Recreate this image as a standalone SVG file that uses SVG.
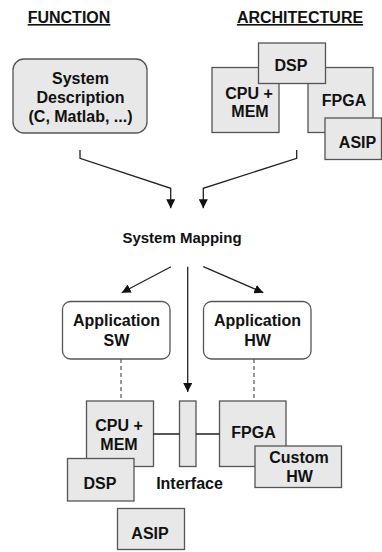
<svg xmlns="http://www.w3.org/2000/svg" width="382" height="552" viewBox="0 0 382 552">
<style>
text{font-family:"Liberation Sans",Arial,sans-serif;font-weight:bold;font-size:16px;fill:#111;text-anchor:middle}
.box{fill:#e8e8e8;stroke:#555;stroke-width:1.3}
.wbox{fill:#fff;stroke:#555;stroke-width:1.3}
.ln{fill:none;stroke:#222;stroke-width:1.3}
.dash{fill:none;stroke:#555;stroke-width:1.2;stroke-dasharray:4,3}
</style>
<defs>
<marker id="ah" viewBox="0 0 10 10" refX="10" refY="5" markerWidth="9" markerHeight="9" markerUnits="userSpaceOnUse" orient="auto">
<path d="M0,0 L10,5 L0,10 z" fill="#111"/>
</marker>
</defs>
<g id="titles">
<text x="69" y="23" text-decoration="underline">FUNCTION</text>
<text x="300" y="23" text-decoration="underline">ARCHITECTURE</text>
</g>
<g id="sysdesc">
<rect class="box" x="13" y="59" width="134" height="74" rx="11"/>
<text x="80.5" y="84">System</text>
<text x="80.5" y="103">Description</text>
<text x="80.5" y="122">(C, Matlab, ...)</text>
</g>
<g id="arch">
<g id="arch-cpu"><rect class="box" x="212" y="67.5" width="67" height="65"/><text x="249" y="98.5">CPU +</text><text x="250" y="117">MEM</text></g>
<g id="arch-fpga"><rect class="box" x="308" y="67.5" width="65" height="65"/><text x="344" y="106">FPGA</text></g>
<g id="arch-dsp"><rect class="box" x="258.5" y="43" width="67" height="40.5"/><text x="291" y="71">DSP</text></g>
<g id="arch-asip"><rect class="box" x="325" y="118" width="56.5" height="41.5"/><text x="357.5" y="148">ASIP</text></g>
</g>
<g id="mapping"><text x="182" y="243" style="font-size:15px">System Mapping</text></g>
<g id="appsw"><rect class="wbox" x="62.5" y="301.5" width="107.5" height="57.5" rx="8"/><text x="116.5" y="326">Application</text><text x="116.5" y="346">SW</text></g>
<g id="apphw"><rect class="wbox" x="203.5" y="301.5" width="107.5" height="57.5" rx="8"/><text x="257.5" y="326">Application</text><text x="257.5" y="346">HW</text></g>
<g id="cpu"><rect class="box" x="86.5" y="401" width="67" height="65.5"/><text x="119" y="431">CPU +</text><text x="119" y="450">MEM</text></g>
<g id="dsp"><rect class="box" x="67.5" y="458.5" width="66.5" height="42.5"/><text x="100" y="489">DSP</text></g>
<g id="iface"><rect class="box" x="179.5" y="401" width="16.5" height="65.5"/><text x="189.5" y="489">Interface</text></g>
<g id="fpga"><rect class="box" x="219.5" y="401" width="66.5" height="65.5"/><text x="253.5" y="438">FPGA</text></g>
<g id="custom"><rect class="box" x="255" y="446" width="86.5" height="41.5"/><text x="299" y="463">Custom</text><text x="299.5" y="482">HW</text></g>
<g id="asip"><rect class="box" x="117.5" y="508.5" width="67" height="41"/><text x="150" y="539">ASIP</text></g>
<g id="connectors">
<path class="ln" d="M80,150 L80,158.3 L170.7,188.3 L170.7,208.3" marker-end="url(#ah)"/>
<path class="ln" d="M296.7,150 L296.7,158.3 L203.3,188.3 L203.3,208.3" marker-end="url(#ah)"/>
<path class="ln" d="M171,266.7 L121.7,292.7" marker-end="url(#ah)"/>
<path class="ln" d="M203.3,266.7 L263.3,292.7" marker-end="url(#ah)"/>
<path class="ln" d="M187.7,266.7 L187.7,392" marker-end="url(#ah)"/>
<path class="dash" d="M121,359 L121,401"/>
<path class="dash" d="M254,359 L254,401"/>
<path class="ln" d="M153.5,434 L179.5,434 M196,434 L219.5,434"/>
</g>
</svg>
